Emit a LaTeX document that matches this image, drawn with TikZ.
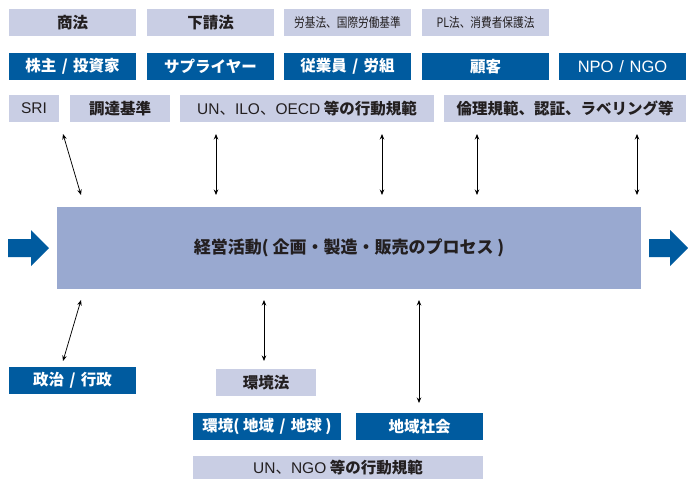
\documentclass[tikz,border=0pt]{standalone}
\usepackage{graphicx}
\usepackage{fontspec}
\setmainfont{Noto Sans CJK JP}
\newfontfamily\ar{Liberation Sans}
\usetikzlibrary{arrows.meta}
\definecolor{lboxc}{HTML}{C9CEE4}
\definecolor{dboxc}{HTML}{005B9F}
\definecolor{mainc}{HTML}{99A9D0}
\definecolor{txtc}{HTML}{231F20}
\newcommand\latn[1]{{\ar\mdseries #1}}
\newcommand\sep{\hspace{0.35em}/\hspace{0.35em}}
\begin{document}
\begin{tikzpicture}[x=1pt,y=-1pt,
  lb/.style={fill=lboxc, text=txtc, inner sep=0pt, font=\fontsize{15.5}{15.5}\selectfont\bfseries},
  db/.style={fill=dboxc, text=white, inner sep=0pt, font=\fontsize{15.5}{15.5}\selectfont\bfseries},
  sz/.style 2 args={minimum width=#1pt, minimum height=#2pt},
  cond/.style={font=\fontsize{13}{13}\selectfont\mdseries},
  bi/.style={{Stealth[length=5.5pt,width=4.5pt]}-{Stealth[length=5.5pt,width=4.5pt]}, line width=0.75pt, black},
  big/.style={fill=dboxc, draw=none}]
\useasboundingbox (0,0) rectangle (688,479);
% row 1
\node[lb, sz={127}{27}] (shoho) at (72.5,22.5) {商法};
\node[lb, sz={127}{27}] (shitauke) at (210.5,22.5) {下請法};
\node[lb, sz={127}{27}, cond] (roki) at (347.5,22.5) {\scalebox{0.82}[1]{労基法、国際労働基準}};
\node[lb, sz={127}{27}, cond] (pl) at (485.5,22.5) {\scalebox{0.82}[1]{PL法、消費者保護法}};
% row 2
\node[db, sz={127}{27}] (kabu) at (72.5,66.5) {株主\sep 投資家};
\node[db, sz={127}{27}] (supp) at (210.5,66.5) {サプライヤー};
\node[db, sz={127}{27}] (jugyo) at (347.5,66.5) {従業員\sep 労組};
\node[db, sz={127}{27}] (kokyaku) at (485.5,66.5) {顧客};
\node[db, sz={127}{27}] (npo) at (622.5,66.5) {\latn{\fontsize{16.5}{16.5}\selectfont NPO\sep NGO}};
% row 3
\node[lb, sz={50}{27}] (sri) at (34,108.5) {\latn{SRI}};
\node[lb, sz={100}{27}] (chotatsu) at (120,108.5) {調達基準};
\node[lb, sz={254}{27}] (un) at (307,108.5) {\latn{UN}{\mdseries 、}\latn{ILO}{\mdseries 、}\latn{OECD} 等の行動規範};
\node[lb, sz={242}{27}] (rinri) at (565,108.5) {倫理規範、認証、ラベリング等};
% main
\node[fill=mainc, text=txtc, inner sep=0pt, sz={584}{82}, font=\fontsize{17}{17}\selectfont\bfseries] (main) at (349,248) {経営活動( 企画・製造・販売のプロセス )};
\fill[big] (8,239) -- (31,239) -- (31,230) -- (49,248) -- (31,266) -- (31,257) -- (8,257) -- cycle;
\fill[big] (649,239) -- (670,239) -- (670,230) -- (688,248) -- (670,266) -- (670,257) -- (649,257) -- cycle;
% bottom
\node[db, sz={127}{27}] (seiji) at (72.5,380.5) {政治\sep 行政};
\node[lb, sz={100}{27}] (kankyoho) at (266,382.5) {環境法};
\node[db, sz={148}{27}] (kankyo) at (267,426.5) {環境( 地域\sep 地球 )};
\node[db, sz={127}{27}] (chiiki) at (419.5,426.5) {地域社会};
\node[lb, sz={290}{23}] (unngo) at (338,467.5) {\latn{UN}{\mdseries 、}\latn{NGO} 等の行動規範};
% arrow end points
\coordinate (t1a) at (63,134); \coordinate (t1b) at (81,195);
\coordinate (t2a) at (216,134); \coordinate (t2b) at (216,195);
\coordinate (t3a) at (382,134); \coordinate (t3b) at (382,195);
\coordinate (t4a) at (477,134); \coordinate (t4b) at (477,195);
\coordinate (t5a) at (637,134); \coordinate (t5b) at (637,195);
\coordinate (b1a) at (81,300); \coordinate (b1b) at (63,361);
\coordinate (b2a) at (264,300); \coordinate (b2b) at (264,361);
\coordinate (b3a) at (419,300); \coordinate (b3b) at (419,403);
\draw[bi] (t1a) -- (t1b);
\draw[bi] (t2a) -- (t2b);
\draw[bi] (t3a) -- (t3b);
\draw[bi] (t4a) -- (t4b);
\draw[bi] (t5a) -- (t5b);
\draw[bi] (b1a) -- (b1b);
\draw[bi] (b2a) -- (b2b);
\draw[bi] (b3a) -- (b3b);
\end{tikzpicture}
\end{document}
